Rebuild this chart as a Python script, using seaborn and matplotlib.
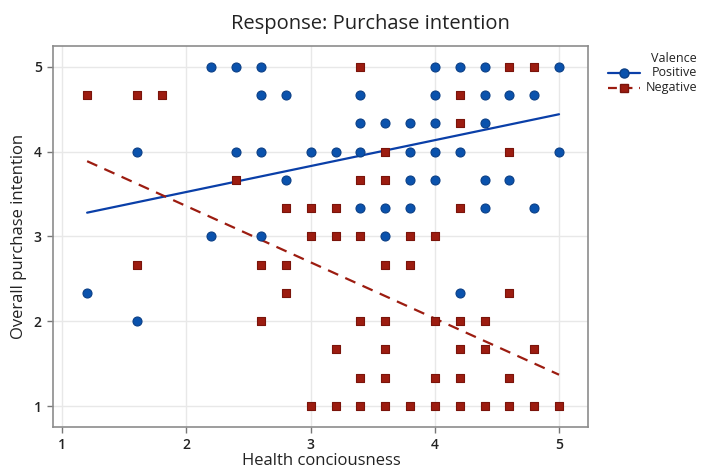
import numpy as np
import pandas as pd
import matplotlib
matplotlib.use("Agg")
import matplotlib.pyplot as plt
from matplotlib.lines import Line2D
import seaborn as sns

# ---- data ----
pos_x = [2.2, 2.4, 2.6, 4.0, 4.2, 4.4, 5.0,
         2.6, 2.8, 3.4, 4.0, 4.4, 4.6, 4.8,
         3.4, 3.6, 3.8, 4.0, 4.4,
         1.6, 2.4, 2.6, 3.0, 3.2, 3.4, 3.8, 4.0, 4.2, 5.0,
         2.8, 3.8, 4.0, 4.4, 4.6,
         3.4, 3.6, 3.8, 4.4, 4.8,
         2.2, 2.6, 3.6,
         1.2, 4.2,
         1.6]
pos_y = [5, 5, 5, 5, 5, 5, 5,
         4.667, 4.667, 4.667, 4.667, 4.667, 4.667, 4.667,
         4.333, 4.333, 4.333, 4.333, 4.333,
         4, 4, 4, 4, 4, 4, 4, 4, 4, 4,
         3.667, 3.667, 3.667, 3.667, 3.667,
         3.333, 3.333, 3.333, 3.333, 3.333,
         3, 3, 3,
         2.333, 2.333,
         2]
neg_x = [3.4, 4.6, 4.8,
         1.2, 1.6, 1.8, 4.2,
         4.2,
         3.6, 4.6,
         2.4, 3.4, 3.6,
         2.8, 3.0, 3.2, 4.2,
         3.0, 3.2, 3.4, 3.8, 4.0,
         1.6, 2.6, 2.8, 3.6, 3.8,
         2.8, 4.6,
         2.6, 3.4, 3.6, 4.0, 4.2, 4.4,
         3.2, 3.6, 4.2, 4.4, 4.8,
         3.4, 3.6, 4.0, 4.2, 4.6,
         3.0, 3.2, 3.4, 3.6, 3.8, 4.0, 4.2, 4.4, 4.6, 4.8, 5.0]
neg_y = [5, 5, 5,
         4.667, 4.667, 4.667, 4.667,
         4.333,
         4, 4,
         3.667, 3.667, 3.667,
         3.333, 3.333, 3.333, 3.333,
         3, 3, 3, 3, 3,
         2.667, 2.667, 2.667, 2.667, 2.667,
         2.333, 2.333,
         2, 2, 2, 2, 2, 2,
         1.667, 1.667, 1.667, 1.667, 1.667,
         1.333, 1.333, 1.333, 1.333, 1.333,
         1, 1, 1, 1, 1, 1, 1, 1, 1, 1, 1]
groups = ["Positive", "Negative"]
# fitted regression lines as shown in the reference (intercept, slope);
# the raw data contain overlapping responses that cannot be counted from the picture
fit_pos = [2.913, 0.3053]
fit_neg = [4.681, -0.6624]
x_ticks = [1, 2, 3, 4, 5]
y_ticks = [1, 2, 3, 4, 5]

XL = "Health conciousness"
YL = "Overall purchase intention"
df = pd.DataFrame({
    XL: pos_x + neg_x,
    YL: pos_y + neg_y,
    "Valence": [groups[0]] * len(pos_x) + [groups[1]] * len(neg_x),
})

BLUE = "#0a52ad"
BLUE_E = "#0b3f86"
BLUE_L = "#0a3fa8"
RED = "#9c1c10"
RED_E = "#7a140b"

sns.set_theme(style="white")
plt.rcParams["font.family"] = ["Open Sans", "DejaVu Sans"]

fig = plt.figure(figsize=(7.13, 4.68), dpi=100)
ax = fig.add_axes([0.0743, 0.0882, 0.75, 0.8135])

ax.set_axisbelow(True)
ax.grid(True, color="#e8e8e8", linewidth=1.0)

pos = df[df["Valence"] == groups[0]]
neg = df[df["Valence"] == groups[1]]

def fit_frame(sub, coef):
    xs = np.array([sub[XL].min(), sub[XL].max()])
    return pd.DataFrame({XL: xs, YL: coef[0] + coef[1] * xs})

sns.lineplot(data=fit_frame(pos, fit_pos), x=XL, y=YL, ax=ax, color=BLUE_L, lw=1.6, zorder=3)
sns.lineplot(data=fit_frame(neg, fit_neg), x=XL, y=YL, ax=ax, color=RED, lw=1.6,
             linestyle=(0, (5, 3.5)), zorder=3)

sns.scatterplot(data=pos, x=XL, y=YL, marker="o", s=42, color=BLUE, edgecolor=BLUE_E,
                linewidth=0.8, ax=ax, zorder=4, legend=False)
sns.scatterplot(data=neg, x=XL, y=YL, marker="s", s=40, color=RED, edgecolor=RED_E,
                linewidth=0.8, ax=ax, zorder=4, legend=False)

ax.set_xlim(0.925, 5.231)
ax.set_ylim(0.756, 5.244)
ax.set_xticks(x_ticks)
ax.set_yticks(y_ticks)
ax.set_xticklabels([str(t) for t in x_ticks], fontsize=10, fontweight="semibold", color="#222222")
ax.set_yticklabels([str(t) for t in y_ticks], fontsize=10, fontweight="semibold", color="#222222")
ax.tick_params(axis="both", which="both", direction="out", length=4, width=1,
               color="#777777", bottom=True, left=True, pad=4)

for s in ax.spines.values():
    s.set_visible(True)
    s.set_color("#8c8c8c")
    s.set_linewidth(1.2)

ax.set_xlabel("")
ax.set_ylabel(YL, fontsize=12, color="#222222", labelpad=5)
fig.text(321 / 713, 1 - 461 / 468, XL, ha="center", va="center", fontsize=12, color="#222222")

fig.text(370 / 713, 1 - 24 / 468, "Response: Purchase intention", ha="center", va="center",
         fontsize=14.5, color="#222222")

# legend (Minitab style: right-aligned labels)
leg_kw = dict(ha="right", va="center", fontsize=9, color="#222222")
fig.text(697 / 713, 1 - 59 / 468, "Valence", **leg_kw)
fig.text(697 / 713, 1 - 73 / 468, groups[0], **leg_kw)
fig.text(697 / 713, 1 - 88 / 468, groups[1], **leg_kw)
fig.add_artist(Line2D([608 / 713, 640 / 713], [1 - 73 / 468] * 2, transform=fig.transFigure,
                      color=BLUE_L, lw=1.6))
fig.add_artist(Line2D([624 / 713], [1 - 73 / 468], transform=fig.transFigure,
                      marker="o", ms=6.5, color=BLUE, mec=BLUE_E, lw=0))
fig.add_artist(Line2D([608 / 713, 640 / 713], [1 - 88 / 468] * 2, transform=fig.transFigure,
                      color=RED, lw=1.6, ls=(0, (4, 3))))
fig.add_artist(Line2D([624 / 713], [1 - 88 / 468], transform=fig.transFigure,
                      marker="s", ms=6, color=RED, mec=RED_E, lw=0))

fig.savefig("out.png", dpi=100)
